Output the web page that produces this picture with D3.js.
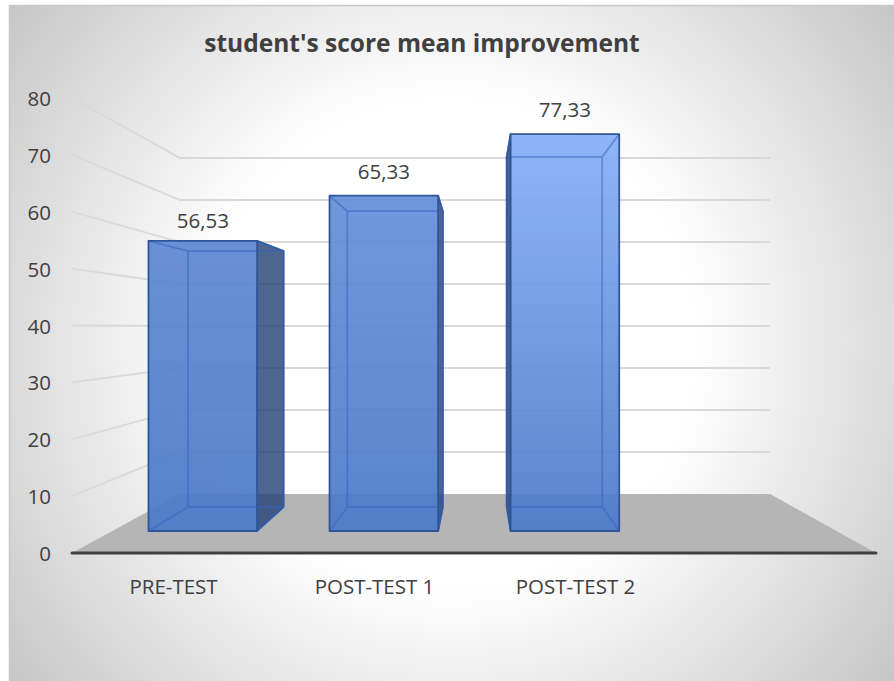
<!DOCTYPE html>
<html>
<head>
<meta charset="utf-8">
<script src="https://cdn.jsdelivr.net/npm/d3@7"></script>
<style>
  body { margin: 0; background: #fff; }
  text { font-family: "Open Sans", sans-serif; fill: #404040; }
</style>
</head>
<body>
<script>
var categories = ["PRE-TEST", "POST-TEST 1", "POST-TEST 2"];
var values = [56.53, 65.33, 77.33];
var valueLabels = ["56,53", "65,33", "77,33"];
var slots = ["PRE-TEST", "POST-TEST 1", "POST-TEST 2", ""];
var yTicks = [0, 10, 20, 30, 40, 50, 60, 70, 80];
var topColors = ["#5d87d0", "#648fd9", "#86aff8"];
var bottomColors = ["#4b79c9", "#4b79c9", "#4b79c9"];
var labelGaps = [13, 17, 17];

var width = 894, height = 681;

// the 3d box is faked with two planes, front of floor and back wall
var xFront = d3.scaleLinear().domain([0, 1]).range([72, 876]);
var xBack = d3.scaleLinear().domain([0, 1]).range([180, 770]);
var yFront = d3.scaleLinear().domain([0, 80]).range([553, 98]);
var yBack = d3.scaleLinear().domain([0, 80]).range([494, 158]);

var band = d3.scaleBand().domain(slots).range([0, 1]).paddingInner(0.4).paddingOuter(0.2);

var depthNear = 0.373, depthFar = 0.78;

function project(fx, v, t) {
  return [
    d3.interpolateNumber(xFront(fx), xBack(fx))(t),
    d3.interpolateNumber(yFront(v), yBack(v))(t)
  ];
}

var line = d3.line();

var svg = d3.select("body").append("svg")
  .attr("width", width).attr("height", height)
  .style("display", "block");

var defs = svg.append("defs");

var bg = defs.append("radialGradient").attr("id", "bg")
  .attr("gradientUnits", "userSpaceOnUse")
  .attr("cx", 451).attr("cy", 343).attr("r", 556);
bg.append("stop").attr("offset", 0.44).attr("stop-color", "#ffffff");
bg.append("stop").attr("offset", 1).attr("stop-color", "#c6c6c6");

defs.append("filter").attr("id", "soft")
  .append("feGaussianBlur").attr("stdDeviation", 0.4);

categories.forEach(function(c, i) {
  var g = defs.append("linearGradient").attr("id", "bar" + i)
    .attr("x1", 0).attr("y1", 0).attr("x2", 0).attr("y2", 1);
  g.append("stop").attr("offset", 0).attr("stop-color", topColors[i]);
  g.append("stop").attr("offset", 1).attr("stop-color", bottomColors[i]);
});

// chart area, runs off the right and bottom of the picture
svg.append("rect")
  .attr("x", 9).attr("y", 5).attr("width", 885).attr("height", 676)
  .attr("fill", "url(#bg)");
svg.append("path")
  .attr("d", line([[9.5, 681], [9.5, 5.5], [894, 5.5]]))
  .attr("fill", "none").attr("stroke", "#c8c8c8").attr("stroke-width", 1.5);

// floor
svg.append("path")
  .attr("d", line([project(0, 0, 0), project(1, 0, 0), project(1, 0, 1), project(0, 0, 1)]) + "Z")
  .attr("fill", "#b5b5b5");

// gridlines on side wall and back wall
var grid = svg.append("g").attr("fill", "none").attr("stroke", "#d9d9d9").attr("stroke-width", 1.8);
yTicks.filter(function(d) { return d > 0; }).forEach(function(d) {
  grid.append("path").attr("d", line([project(0, d, 0), project(0, d, 1), project(1, d, 1)]));
});

// bars
var barGroup = svg.append("g").attr("filter", "url(#soft)");
categories.forEach(function(c, i) {
  var x0 = band(c), x1 = x0 + band.bandwidth(), v = values[i];
  var g = barGroup.append("g");
  var fa = project(x0, v, depthNear), fb = project(x1, v, depthNear),
      fc = project(x1, 0, depthNear), fd = project(x0, 0, depthNear),
      ba = project(x0, v, depthFar), bb = project(x1, v, depthFar),
      bc = project(x1, 0, depthFar), bd = project(x0, 0, depthFar);

  var outline = "#2f5597";

  // the side wall that sticks out from behind the front face
  var side = ba[0] < fa[0] ? [fa, ba, bd, fd] : [fb, bb, bc, fc];
  g.append("path").attr("d", line(side) + "Z")
    .attr("fill", "#264478").attr("fill-opacity", 0.82)
    .attr("stroke", outline).attr("stroke-width", 1.6).attr("stroke-linejoin", "round");

  // front face, see through so floor edge and gridlines still show
  g.append("path").attr("d", line([fa, fb, fc, fd]) + "Z")
    .attr("fill", "url(#bar" + i + ")").attr("fill-opacity", 0.92);

  // inner edges seen through the glass
  g.append("path")
    .attr("d", line([ba, bb]) + line([bb, bc]) + line([bc, bd]) + line([bd, ba]) +
               line([fa, ba]) + line([fb, bb]) + line([fc, bc]) + line([fd, bd]))
    .attr("fill", "none").attr("stroke", "#2f62bd").attr("stroke-opacity", 0.5).attr("stroke-width", 1.8);

  // outer edges
  g.append("path").attr("d", line([fa, fb, fc, fd]) + "Z")
    .attr("fill", "none").attr("stroke", outline).attr("stroke-width", 1.8).attr("stroke-linejoin", "round");

  svg.append("text")
    .attr("x", (fa[0] + fb[0]) / 2)
    .attr("y", fa[1] - labelGaps[i])
    .attr("text-anchor", "middle")
    .attr("font-size", 20.5)
    .text(valueLabels[i]);
});

// base line
svg.append("path")
  .attr("d", line([project(0, 0, 0), project(1, 0, 0)]))
  .attr("stroke", "#404040").attr("stroke-width", 3).attr("stroke-linecap", "round");

// y axis labels
var yAxis = d3.axisLeft(yFront).tickValues(yTicks).tickSize(0).tickPadding(8);
var yG = svg.append("g").attr("transform", "translate(59,1)").call(yAxis);
yG.select(".domain").remove();
yG.selectAll("text").attr("font-size", 20.5).style("font-family", '"Open Sans", sans-serif').attr("fill", "#404040");

// x axis labels
var xLabel = d3.scaleBand().domain(slots).range([xFront(0) + 1, xFront(1) + 1]);
svg.append("g").selectAll("text").data(categories).enter().append("text")
  .attr("x", function(d) { return xLabel(d) + xLabel.bandwidth() / 2; })
  .attr("y", 594)
  .attr("text-anchor", "middle")
  .attr("font-size", 20.5)
  .text(function(d) { return d; });

svg.append("text")
  .attr("x", 422).attr("y", 52)
  .attr("text-anchor", "middle")
  .attr("font-size", 24.5)
  .attr("font-weight", "bold")
  .text("student's score mean improvement");
</script>
</body>
</html>
